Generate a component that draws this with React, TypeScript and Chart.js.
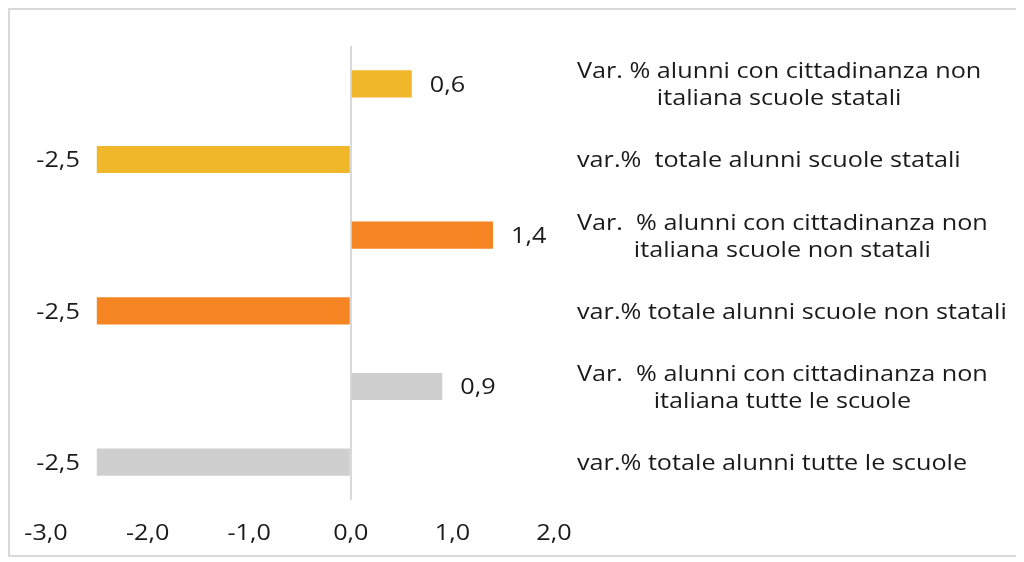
import React, { useEffect, useRef } from "react";
import { Chart, registerables } from "chart.js";

Chart.register(...registerables);

// Category labels (each entry holds its text lines), top to bottom
const categoryLines: string[][] = [
  ["Var. % alunni con cittadinanza non", "italiana scuole statali"],
  ["var.%  totale alunni scuole statali"],
  ["Var.  % alunni con cittadinanza non", "italiana scuole non statali"],
  ["var.% totale alunni scuole non statali"],
  ["Var.  % alunni con cittadinanza non", "italiana tutte le scuole"],
  ["var.% totale alunni tutte le scuole"],
];

// Percentage changes, same order as the categories
const values: number[] = [0.6, -2.5, 1.4, -2.5, 0.9, -2.5];

const barColors: string[] = [
  "#F0B72B",
  "#F0B72B",
  "#F58423",
  "#F58423",
  "#CFCFCF",
  "#CFCFCF",
];

// X axis range and step
const xMin = -3;
const xMax = 2;
const xStep = 1;

const FONT = "'Open Sans', sans-serif";
const FONT_SIZE = 21;
const STRETCH = 1.2; // horizontal widening of the text glyphs
const TEXT_COLOR = "#1a1a1a";
const TEXT_DY = 2; // optical vertical centring of the glyphs

const fmt = (v: number) => v.toFixed(1).replace(".", ",");

// Writes a widened text line, aligned left / center / right on x
function wideText(
  ctx: CanvasRenderingContext2D,
  txt: string,
  x: number,
  y: number,
  align: "left" | "center" | "right"
) {
  ctx.save();
  ctx.font = `${FONT_SIZE}px ${FONT}`;
  ctx.textAlign = "left";
  ctx.textBaseline = "middle";
  ctx.fillStyle = TEXT_COLOR;
  const w = ctx.measureText(txt).width * STRETCH;
  const left = align === "left" ? x : align === "center" ? x - w / 2 : x - w;
  ctx.translate(left, y + TEXT_DY);
  ctx.scale(STRETCH, 1);
  ctx.fillText(txt, 0, 0);
  ctx.restore();
}

function textWidth(ctx: CanvasRenderingContext2D, txt: string) {
  ctx.save();
  ctx.font = `${FONT_SIZE}px ${FONT}`;
  const w = ctx.measureText(txt).width * STRETCH;
  ctx.restore();
  return w;
}

// Draws the x tick labels, the value labels beside each bar and the
// category labels to the right of the plot
const labelPlugin = {
  id: "sideLabels",
  afterDatasetsDraw(chart: any) {
    const ctx = chart.ctx as CanvasRenderingContext2D;
    const meta = chart.getDatasetMeta(0);
    const area = chart.chartArea;
    const xScale = chart.scales.x;
    const yScale = chart.scales.y;

    // x axis tick labels
    xScale.ticks.forEach((t: any) => {
      wideText(ctx, fmt(t.value), xScale.getPixelForValue(t.value), area.bottom + 32, "center");
    });

    // value labels
    meta.data.forEach((bar: any, i: number) => {
      const v = values[i];
      const txt = fmt(v);
      if (v >= 0) wideText(ctx, txt, bar.x + 18, bar.y, "left");
      else wideText(ctx, txt, bar.x - 17, bar.y, "right");
    });

    // category labels: block left-aligned, lines centred within the block
    const left = area.right + 23;
    const lineH = 27;
    categoryLines.forEach((lines, i) => {
      const cy = yScale.getPixelForValue(i);
      const maxW = Math.max(...lines.map((l) => textWidth(ctx, l)));
      const cx = left + maxW / 2;
      const top = cy - ((lines.length - 1) * lineH) / 2;
      lines.forEach((l, j) => wideText(ctx, l, cx, top + j * lineH, "center"));
    });
  },
};

export default function App() {
  const ref = useRef<HTMLCanvasElement | null>(null);

  useEffect(() => {
    if (!ref.current) return;
    const chart = new Chart(ref.current, {
      type: "bar",
      data: {
        labels: categoryLines.map((l) => l.join(" ")),
        datasets: [
          {
            data: values,
            backgroundColor: barColors,
            borderWidth: 0,
            barPercentage: 0.72,
            categoryPercentage: 0.5,
          },
        ],
      },
      options: {
        indexAxis: "y",
        animation: false,
        responsive: false,
        devicePixelRatio: 1,
        layout: {
          padding: { left: 36, right: 464, top: 36, bottom: 11 },
        },
        plugins: {
          legend: { display: false },
          tooltip: { enabled: false },
        },
        scales: {
          x: {
            type: "linear",
            min: xMin,
            max: xMax,
            afterFit: (s: any) => {
              s.height = 44;
            },
            ticks: {
              display: false,
              stepSize: xStep,
            },
            grid: {
              drawTicks: false,
              lineWidth: 2,
              color: (c: any) =>
                c.tick && c.tick.value === 0 ? "#d9d9d9" : "rgba(0,0,0,0)",
            },
            border: { display: false },
          },
          y: {
            display: false,
            grid: { display: false },
          },
        },
      },
      plugins: [labelPlugin],
    });
    return () => chart.destroy();
  }, []);

  return (
    <div
      style={{
        width: 1012,
        height: 549,
        border: "2px solid #d9d9d9",
        boxSizing: "border-box",
        background: "#fff",
      }}
    >
      <canvas ref={ref} width={1008} height={545} style={{ display: "block" }} />
    </div>
  );
}
